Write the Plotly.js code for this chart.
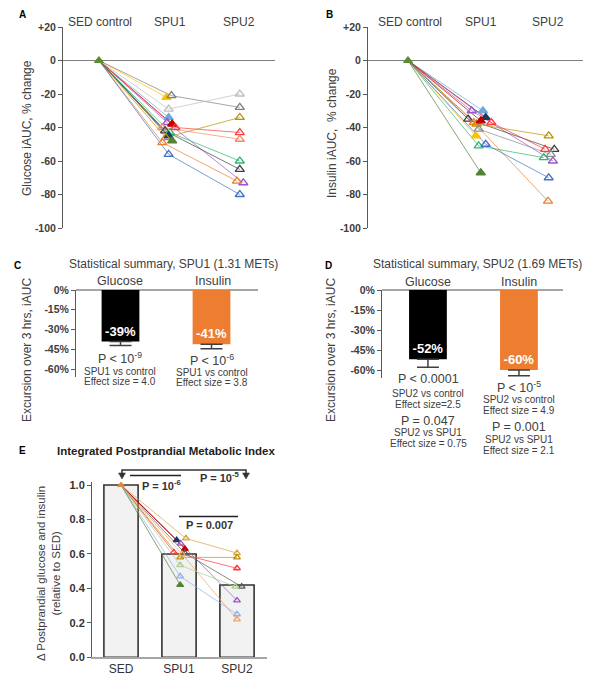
<!DOCTYPE html>
<html><head><meta charset="utf-8">
<script src="https://cdn.plot.ly/plotly-3.0.1.min.js"></script>
<style>html,body{margin:0;padding:0;background:#fff}#chart{width:600px;height:682px}</style>
</head><body><div id="chart"></div>
<script>
// ---------- DATA ----------
// Panels A/B: categories on top
const topCats = ['SED control', 'SPU1', 'SPU2'];
const abTickVals = [-100, -80, -60, -40, -20, 0, 20];
const abTickText = ['-100', '-80', '-60', '-40', '-20', '0', '+20'];

// Panel A: glucose iAUC % change per subject (null = not tested at SPU2)
const gluSED  = 0;
const gluSPU1 = [-22, -21, -29, -34, -37, -38, -40, -40, -42, -43, -45, -46, -48, -49, -56];
const gluSPU2 = [null, -28, -20, null, -73, null, -43, -47, -65, -60, null, -34, null, -72, -80];

// Panel B: insulin iAUC % change per subject
const insSED  = 0;
const insSPU1 = [-30, -30, -34, -35, -37, -38, -36, -37, -41, -45, -51, -50, -67];
const insSPU2 = [-60, null, null, -53, -84, -45, null, -53, -56, null, -58, -70, null];

// Panel C: SPU1 summary
const sumCats = ['Glucose', 'Insulin'];
const spu1Mean = [-39, -41];
const spu1Err  = [3, 3.5];
// Panel D: SPU2 summary
const spu2Mean = [-52, -60];
const spu2Err  = [6, 4.3];

// Panel E: integrated index
const eCats  = ['SED', 'SPU1', 'SPU2'];
const eMeans = [1.0, 0.60, 0.42];
const eSED   = 1.0;
const eSPU1  = [0.68, 0.69, 0.66, 0.63, 0.61, 0.605, 0.58, 0.535, 0.47, 0.42, 0.60];
const eSPU2  = [null, 0.605, 0.33, null, 0.517, 0.41, 0.58, 0.41, 0.25, null, 0.22];

// ---------- STYLE ----------
const FONT = 'Liberation Sans, Arial, sans-serif';
const TXT = '#404040';
const gluColors = ['#FFC000','#7F7F7F','#BFBFBF','#6FA8DC','#9A57CD','#C00000','#FF3B3B','#F08C6C','#404040','#2EB872','#1F3864','#BF9000','#548235','#ED7D31','#4472C4'];
const gluFilled = [1,0,0,1,0,1,0,0,0,0,1,0,1,0,0];
const gluJit1 = [-0.04,0.03,-0.01,-0.01,-0.03,0.04,0.085,-0.1,-0.06,0.01,-0.01,-0.05,0.04,-0.1,-0.01];
const gluJit2 = [0,0,0,0,0.05,0,0,0,0,0,0,0,0,-0.04,0];
const insColors = ['#9A57CD','#6FA8DC','#1F3864','#404040','#ED7D31','#BF9000','#C00000','#FF3B3B','#8C8C8C','#FFC000','#2EB872','#4472C4','#548235'];
const insFilled = [0,1,1,0,0,0,1,0,0,1,0,0,1];
const insJit1 = [-0.09,0.07,0.11,-0.14,-0.06,-0.02,0.04,0.19,0.01,-0.03,0.01,0.11,0.04];
const insJit2 = [0.07,0,0,0.09,0,0.01,0,-0.04,0.04,0,-0.06,0.01,0];
const eColors = ['#1F3864','#D9A441','#9A57CD','#C00000','#FF3B3B','#595959','#BF9000','#A9D18E','#8FB4E3','#548235','#F4A26B'];
const eFilled = [1,0,0,1,0,0,0,0,0,1,0];
const eJit1 = [-0.04,0.12,0.03,0.1,-0.09,0.1,0.02,0.02,0.02,0.02,0.05];
const eJit2 = [0,0,0.0,0,0,0.08,0,-0.03,0,0,0];

const W = 600, H = 682;
const px = v => v / W, py = v => 1 - v / H;

const traces = [];
function subjects(xa, ya, sed, s1, s2, colors, filled, j1, j2, msize, sedColor) {
  const lines = [], marks = [];
  for (let i = 0; i < s1.length; i++) {
    const xs = [0, 1 + j1[i]], ys = [sed, s1[i]];
    if (s2[i] !== null) { xs.push(2 + j2[i]); ys.push(s2[i]); }
    lines.push({type:'scatter', mode:'lines', x: xs, y: ys, xaxis: xa, yaxis: ya,
      line:{color: colors[i], width: 1}, opacity: 0.7, hoverinfo:'skip'});
    marks.push({type:'scatter', mode:'markers', x: xs.slice(1), y: ys.slice(1), xaxis: xa, yaxis: ya,
      marker:{symbol: filled[i] ? 'triangle-up' : 'triangle-up-open', size: msize, color: colors[i],
        line:{color: colors[i], width: 1.3}}});
  }
  traces.push(...lines, ...marks);
  traces.push({type:'scatter', mode:'markers', x:[0], y:[sed], xaxis: xa, yaxis: ya,
    marker:{symbol:'triangle-up', size: msize, color: sedColor, line:{color: sedColor, width:1}}});
}
subjects('x', 'y', gluSED, gluSPU1, gluSPU2, gluColors, gluFilled, gluJit1, gluJit2, 8, '#5E8C31');
subjects('x2', 'y2', insSED, insSPU1, insSPU2, insColors, insFilled, insJit1, insJit2, 8, '#5E8C31');

// Panels C/D bars
function summaryBars(xa, ya, means, errs) {
  traces.push({type:'bar', x:[0,1], y: means, xaxis: xa, yaxis: ya, width: 0.415,
    marker:{color:['#000000','#ED7D31']},
    error_y:{type:'data', symmetric:false, array:[0,0], arrayminus: errs, color:'#404040', thickness:1.5, width:11},
    text: means.map(v => v + '%'), textposition:'inside', insidetextanchor:'end',
    textfont:{family: FONT, size: 13, color:'#ffffff', weight:'bold'}, cliponaxis:false});
}
// E bars first so points lie above
traces.push({type:'bar', x:[0,1,2], y: eMeans, xaxis:'x5', yaxis:'y5', width: 0.59,
  marker:{color:'#F2F2F2', line:{color:'#333333', width:1.6}}, hoverinfo:'skip'});
summaryBars('x3', 'y3', spu1Mean, spu1Err);
summaryBars('x4', 'y4', spu2Mean, spu2Err);
subjects('x5', 'y5', eSED, eSPU1, eSPU2, eColors, eFilled, eJit1, eJit2, 6, '#E08A3C');

// ---------- LAYOUT ----------
const tickFont = {family: FONT, size: 10.5, color: TXT, weight: 'bold'};
function yAxisAB(dom) {
  return {domain: dom, range:[-100, 20], tickvals: abTickVals, ticktext: abTickText,
    showline:true, linecolor:'#595959', linewidth:1, ticks:'outside', ticklen:4, tickcolor:'#595959',
    showgrid:false, zeroline:true, zerolinecolor:'#7F7F7F', zerolinewidth:1.2, tickfont: tickFont, fixedrange:true};
}
function yAxisCD(dom, bottom) {
  return {domain: dom, range:[bottom, 0], tickvals:[-60,-45,-30,-15,0], ticktext:['-60%','-45%','-30%','-15%','0%'],
    showline:true, linecolor:'#595959', linewidth:1, ticks:'outside', ticklen:4, tickcolor:'#595959',
    showgrid:false, zeroline:true, zerolinecolor:'#A6A6A6', zerolinewidth:1.5, tickfont: tickFont};
}
const hidX = (dom, r) => ({domain: dom, range: r, visible:false, showgrid:false, zeroline:false});

const ann = [];
function T(text, x, y, size, o) {
  ann.push(Object.assign({text, x: px(x), y: py(y), xref:'paper', yref:'paper', showarrow:false,
    xanchor:'center', yanchor:'middle', font:{family: FONT, size, color: TXT}}, o || {}));
}
const letterFont = {family:FONT, size:10, color:'#000', weight:'bold'};
T('A', 22, 15, 10, {font: letterFont});
T('B', 329, 15, 10, {font: letterFont});
T('C', 17, 265, 10, {font: letterFont});
T('D', 328, 265, 10, {font: letterFont});
T('E', 22, 450, 10, {font: letterFont});
// A/B headers from categories
const aHdrX = [100, 170, 239], bHdrX = [410, 481, 548];
topCats.forEach((c, i) => { T(c, aHdrX[i], 22, 12); T(c, bHdrX[i], 22, 12); });
T('Glucose iAUC, % change', 27, 128, 12, {textangle:-90});
T('Insulin iAUC,  % change', 332, 133, 12, {textangle:-90});
// C
T('Statistical summary, SPU1 (1.31 METs)', 173, 264, 12);
T(sumCats[0], 120, 281, 12.5); T(sumCats[1], 213, 281, 12.5);
T('Excursion over 3 hrs, iAUC', 27, 350, 12, {textangle:-90});
T('P < 10<sup>-9</sup>', 120, 358, 12.5);
T('SPU1 vs control', 120, 371, 10); T('Effect size = 4.0', 120, 382, 10);
T('P < 10<sup>-6</sup>', 212, 360, 12.5);
T('SPU1 vs control', 212, 372, 10); T('Effect size = 3.8', 212, 383, 10);
// D
T('Statistical summary, SPU2 (1.69 METs)', 477, 264, 12);
T(sumCats[0], 428, 282, 12.5); T(sumCats[1], 519, 282, 12.5);
T('Excursion over 3 hrs, iAUC', 331, 350, 12, {textangle:-90});
T('P < 0.0001', 428, 379, 12.5);
T('SPU2 vs control', 428, 393, 10); T('Effect size=2.5', 428, 404, 10);
T('P = 0.047', 428, 421, 12.5);
T('SPU2 vs SPU1', 428, 432, 10); T('Effect size = 0.75', 428, 443, 10);
T('P < 10<sup>-5</sup>', 519, 387, 12.5);
T('SPU2 vs control', 519, 399, 10); T('Effect size = 4.9', 519, 410, 10);
T('P = 0.001', 519, 427, 12.5);
T('SPU2 vs SPU1', 519, 439, 10); T('Effect size = 2.1', 519, 450, 10);
// E
T('Integrated Postprandial Metabolic Index', 166, 451, 11.5, {font:{family:FONT,size:11.5,color:'#222',weight:'bold'}});
T('Δ Postprandial glucose and insulin<br>(relative to SED)', 48, 574, 11.5, {textangle:-90});
const pFont = {family:FONT, size:11, color:'#333', weight:'bold'};
T('P = 10<sup>-6</sup>', 161, 485, 11, {font: pFont});
T('P = 10<sup>-5</sup>', 220, 477, 11, {font: pFont});
T('P = 0.007', 209, 525, 11, {font: pFont});

// bracket with down arrows
function arrowPath(xc, ytip) {
  return 'M ' + px(xc - 3.5) + ',' + py(ytip - 6) + ' L ' + px(xc + 3.5) + ',' + py(ytip - 6) +
         ' L ' + px(xc) + ',' + py(ytip) + ' Z';
}
const shapes = [
  {type:'path', xref:'paper', yref:'paper',
    path: 'M ' + px(122) + ',' + py(474) + ' L ' + px(122) + ',' + py(470) + ' L ' + px(246) + ',' + py(470) + ' L ' + px(246) + ',' + py(474),
    line:{color:'#333', width:1.5}},
  {type:'path', xref:'paper', yref:'paper', path: arrowPath(122, 479), fillcolor:'#333', line:{color:'#333', width:0.5}},
  {type:'path', xref:'paper', yref:'paper', path: arrowPath(246, 479), fillcolor:'#333', line:{color:'#333', width:0.5}},
  {type:'line', xref:'paper', yref:'paper', x0: px(130), x1: px(181), y0: py(475.5), y1: py(475.5), line:{color:'#222', width:1.3}},
  {type:'line', xref:'paper', yref:'paper', x0: px(179), x1: px(238), y0: py(516.5), y1: py(516.5), line:{color:'#222', width:1.3}}
];

const layout = {
  width: 600, height: 682, margin:{l:0, r:0, t:0, b:0}, showlegend:false,
  paper_bgcolor:'#fff', plot_bgcolor:'rgba(0,0,0,0)', font:{family: FONT, color: TXT},
  barmode:'overlay',
  xaxis: hidX([px(63), px(275)], [-0.51, 2.5]),
  yaxis: Object.assign(yAxisAB([py(228), py(27)]), {anchor:'x'}),
  xaxis2: hidX([px(368), px(583)], [-0.571, 2.5]),
  yaxis2: Object.assign(yAxisAB([py(228), py(27)]), {anchor:'x2'}),
  xaxis3: hidX([px(76), px(258)], [-0.489, 1.511]),
  yaxis3: Object.assign(yAxisCD([py(376.5), py(290)], -65.5), {anchor:'x3'}),
  xaxis4: hidX([px(382), px(563)], [-0.505, 1.484]),
  yaxis4: Object.assign(yAxisCD([py(378.3), py(290)], -66.2), {anchor:'x4'}),
  xaxis5: {domain:[px(92), px(267)], range:[-0.5, 2.517], tickvals:[0,1,2], ticktext: eCats, showgrid:false,
    zeroline:false, showline:true, linecolor:'#A6A6A6', linewidth:1.5, ticks:'', anchor:'y5',
    tickfont:{family: FONT, size: 12, color:'#333'}},
  yaxis5: {domain:[py(657.3), py(481.6)], range:[0, 1.02], tickvals:[0,0.2,0.4,0.6,0.8,1.0], tickformat:'.1f',
    showline:true, linecolor:'#595959', linewidth:1, ticks:'outside', ticklen:4, tickcolor:'#595959',
    showgrid:false, zeroline:false, anchor:'x5', tickfont: {family: FONT, size: 11, color:'#333', weight:'bold'}},
  annotations: ann, shapes: shapes
};
Plotly.newPlot('chart', traces, layout, {staticPlot:true});
</script></body></html>
